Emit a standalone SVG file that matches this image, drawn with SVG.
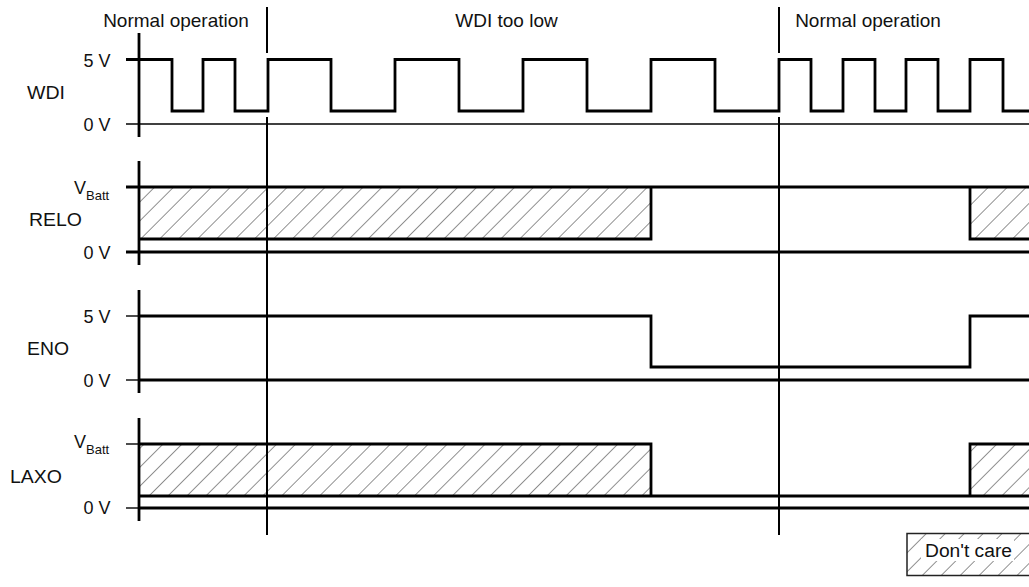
<svg xmlns="http://www.w3.org/2000/svg" width="1029" height="587" viewBox="0 0 1029 587">
  <defs>
    <pattern id="hatch" patternUnits="userSpaceOnUse" width="13.4" height="20" patternTransform="rotate(45)">
      <line x1="0" y1="-1" x2="0" y2="21" stroke="#222" stroke-width="1"/>
    </pattern>
  </defs>
  <style>
    text { font-family: "Liberation Sans", Arial, sans-serif; fill: #111; }
    .top { font-size: 19px; }
    .lbl { font-size: 18px; }
    .sig { fill: none; stroke: #000; stroke-width: 2.8; stroke-linejoin: miter; }
    .axis { fill: none; stroke: #000; stroke-width: 2.8; }
    .thin { fill: none; stroke: #000; stroke-width: 1.4; }
    .div { fill: none; stroke: #000; stroke-width: 2; }
    .hatch { fill: url(#hatch); stroke: none; }
  </style>
  <rect width="1029" height="587" fill="#fff"/>

  <g id="phase-labels">
    <text class="top" x="176" y="27" text-anchor="middle">Normal operation</text>
    <text class="top" x="506.5" y="27" text-anchor="middle">WDI too low</text>
    <text class="top" x="868" y="27" text-anchor="middle">Normal operation</text>
  </g>

  <g id="wdi">
    <text class="lbl" x="27" y="99" textLength="38" lengthAdjust="spacingAndGlyphs">WDI</text>
    <text class="lbl" x="110.5" y="66.7" text-anchor="end">5 V</text>
    <text class="lbl" x="110.5" y="130.7" text-anchor="end">0 V</text>
    <line class="axis" x1="139" y1="33" x2="139" y2="137"/>
    <line class="thin" x1="126" y1="124" x2="1029" y2="124"/>
    <path class="sig" d="M126,59.5 H172 V111 H203 V59.5 H235 V111 H268 V59.5 H331 V111 H395 V59.5 H459 V111 H523 V59.5 H587 V111 H651 V59.5 H715 V111 H779 V59.5 H811 V111 H843 V59.5 H875 V111 H906 V59.5 H938 V111 H970 V59.5 H1003 V111 H1031"/>
  </g>

  <g id="relo">
    <text class="lbl" x="29" y="226" textLength="53" lengthAdjust="spacingAndGlyphs">RELO</text>
    <text class="lbl" x="74" y="193.5">V<tspan dy="6" font-size="13">Batt</tspan></text>
    <text class="lbl" x="110.5" y="258.5" text-anchor="end">0 V</text>
    <rect class="hatch" x="139" y="187" width="512" height="52"/>
    <rect class="hatch" x="970" y="187" width="60" height="52"/>
    <line class="axis" x1="139" y1="161" x2="139" y2="265"/>
    <line class="axis" x1="126" y1="187" x2="1031" y2="187"/>
    <line class="axis" x1="126" y1="252" x2="1031" y2="252"/>
    <path class="sig" d="M139,239 H651 V187"/>
    <path class="sig" d="M1031,239 H970 V187"/>
  </g>

  <g id="eno">
    <text class="lbl" x="27" y="355" textLength="42" lengthAdjust="spacingAndGlyphs">ENO</text>
    <text class="lbl" x="110.5" y="322.7" text-anchor="end">5 V</text>
    <text class="lbl" x="110.5" y="386.7" text-anchor="end">0 V</text>
    <line class="axis" x1="139" y1="290" x2="139" y2="393"/>
    <line class="thin" x1="126" y1="316" x2="139" y2="316"/>
    <line class="thin" x1="126" y1="380" x2="139" y2="380"/>
    <line class="axis" x1="139" y1="380" x2="1031" y2="380"/>
    <path class="sig" d="M139,316 H651 V367 H970 V316 H1031"/>
  </g>

  <g id="laxo">
    <text class="lbl" x="10" y="482.7" textLength="52" lengthAdjust="spacingAndGlyphs">LAXO</text>
    <text class="lbl" x="74" y="448.3">V<tspan dy="6" font-size="13">Batt</tspan></text>
    <text class="lbl" x="110.5" y="514.3" text-anchor="end">0 V</text>
    <rect class="hatch" x="139" y="444" width="512" height="52"/>
    <rect class="hatch" x="970" y="444" width="60" height="52"/>
    <line class="axis" x1="139" y1="418" x2="139" y2="521"/>
    <line class="thin" x1="126" y1="444" x2="139" y2="444"/>
    <line class="thin" x1="126" y1="508" x2="139" y2="508"/>
    <line class="axis" x1="139" y1="508" x2="1031" y2="508" stroke-width="2.3"/>
    <path class="sig" d="M139,444 H651 V496"/>
    <line class="sig" x1="139" y1="496" x2="1031" y2="496"/>
    <path class="sig" d="M1031,444 H970 V496"/>
  </g>

  <g id="connectors">
    <line class="div" x1="267" y1="7" x2="267" y2="53"/>
    <line class="div" x1="267" y1="117" x2="267" y2="535"/>
    <line class="div" x1="779" y1="7" x2="779" y2="53"/>
    <line class="div" x1="779" y1="117" x2="779" y2="535"/>
  </g>

  <g id="legend">
    <rect x="907" y="533.5" width="140" height="42" fill="url(#hatch)" stroke="#222" stroke-width="1.5"/>
    <rect x="921" y="539" width="93" height="22" fill="#fff"/>
    <text class="lbl" x="925" y="556.7" textLength="87" lengthAdjust="spacingAndGlyphs">Don't care</text>
  </g>
</svg>
